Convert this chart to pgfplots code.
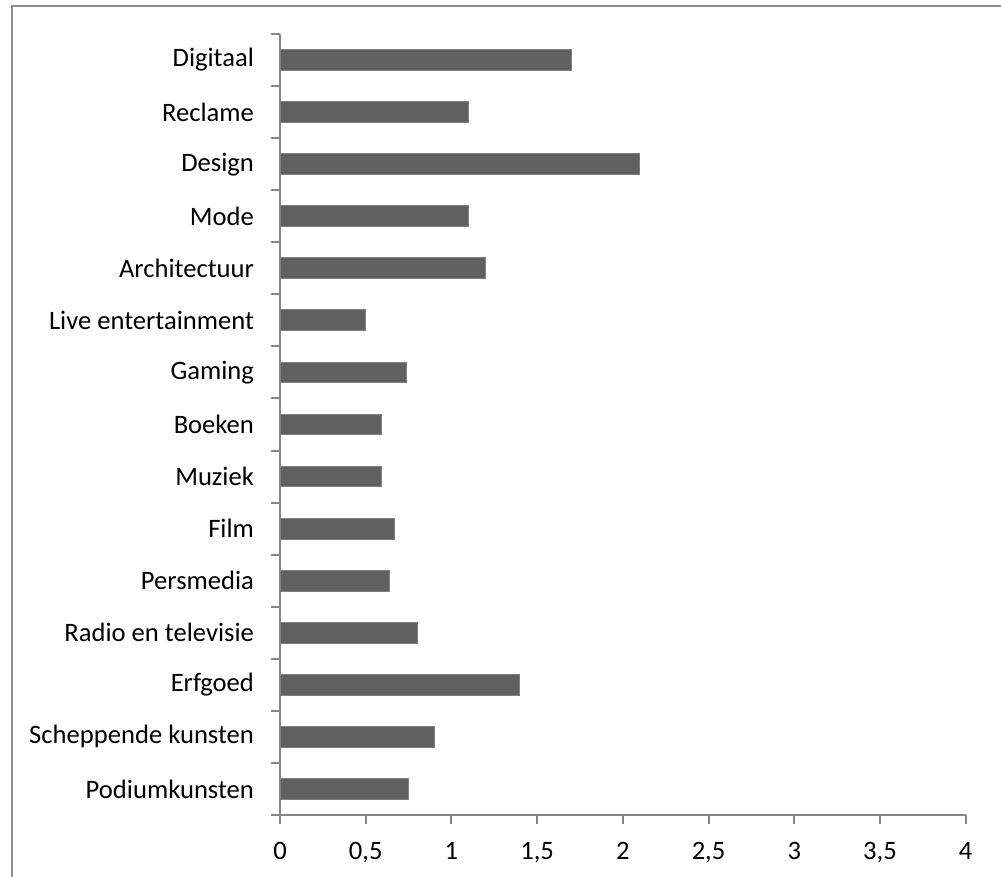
\documentclass[border=0pt]{standalone}
\usepackage{pgfplots}
\pgfplotsset{compat=1.18}
\usepackage{fontspec}
\setmainfont{Carlito}
\definecolor{barfill}{RGB}{96,96,96}
\definecolor{baredge}{RGB}{128,128,128}
\definecolor{axgray}{RGB}{134,134,134}
\definecolor{framegray}{RGB}{142,142,142}
\begin{document}
\begin{tikzpicture}
\path[use as bounding box] (0,0) rectangle (500.5pt,438.5pt);
\draw[framegray, line width=1pt] (6pt,-2pt) -- (6pt,435.5pt) -- (503pt,435.5pt);
\begin{axis}[
  at={(140pt,31pt)}, anchor=south west,
  scale only axis,
  width=342.85pt, height=390.5pt,
  xbar, bar width=0.4,
  xmin=0, xmax=4, ymin=-0.5, ymax=14.5,
  axis x line*=bottom, axis y line*=left,
  axis line style={axgray, line width=1pt, -},
  xtick={0,0.5,...,4},
  ytick={-0.5,0.5,...,14.5},
  yticklabels={},
  extra y ticks={0,...,14},
  extra y tick labels={Podiumkunsten,Scheppende kunsten,Erfgoed,Radio en televisie,Persmedia,Film,Muziek,Boeken,{Gaming },Live entertainment,Architectuur,Mode,Design,Reclame,Digitaal},
  extra y tick style={major tick length=0pt, tick style={draw=none}, yticklabel style={xshift=-9.5pt}},
  tick align=outside,
  major tick length=4.5pt,
  every tick/.style={axgray, line width=1pt},
  /pgf/number format/use comma,
  /pgf/number format/assume math mode=true,
  ticklabel style={font=\fontsize{13.3}{15}\selectfont, text=black},
  xticklabel style={yshift=-5.5pt},
  clip=false,
]
\addplot[fill=barfill, draw=baredge, line width=0.5pt] coordinates {
(0.75,0) (0.90,1) (1.40,2) (0.80,3) (0.64,4) (0.67,5) (0.59,6) (0.59,7) (0.74,8) (0.50,9) (1.20,10) (1.10,11) (2.10,12) (1.10,13) (1.70,14)
};
\end{axis}
\end{tikzpicture}
\end{document}
